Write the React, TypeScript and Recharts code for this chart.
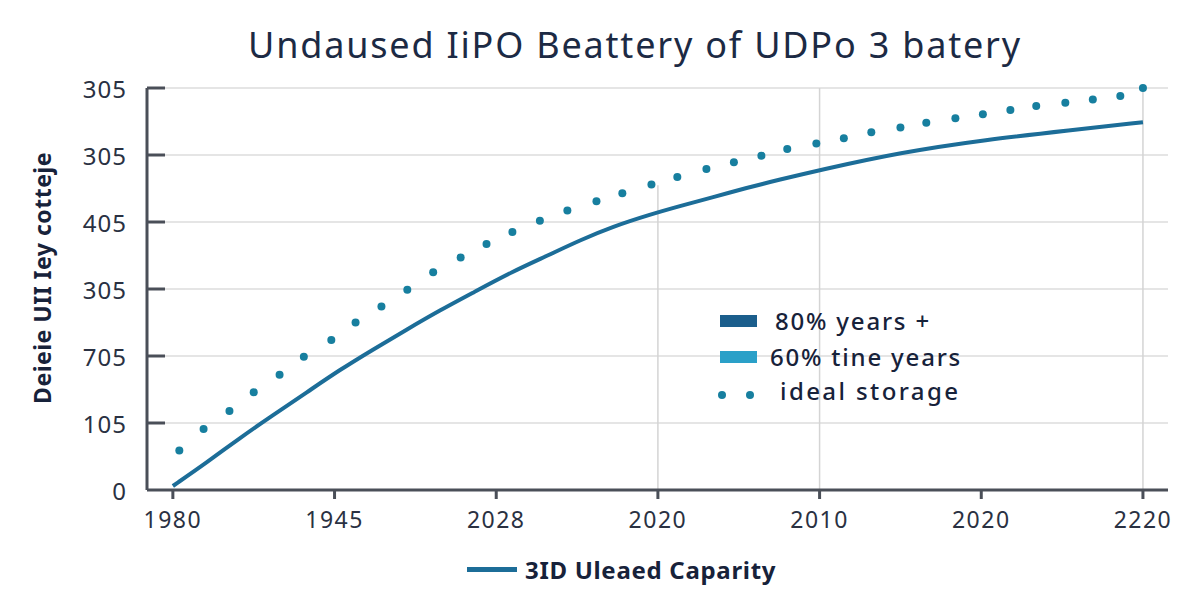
import React from 'react'
import {
  LineChart,
  Line,
  XAxis,
  YAxis,
  CartesianGrid,
  ReferenceLine,
  Label
} from 'recharts'

const xTickLabels = ['1980', '1945', '2028', '2020', '2010', '2020', '2220']
const yTickLabels = ['0', '105', '705', '305', '405', '305', '305']

// "3ID Uleaed Caparity" solid line
const capacityX = [0, 0.21, 0.41, 0.62, 0.83, 1.03, 1.24, 1.45, 1.65, 1.86, 2.1, 2.31, 2.52, 2.72, 2.95, 3.14, 3.34, 3.55, 3.75, 3.99, 4.5, 5.03, 5.55, 6]
const capacityY = [0.06, 0.41, 0.77, 1.12, 1.46, 1.79, 2.1, 2.4, 2.68, 2.95, 3.26, 3.49, 3.73, 3.93, 4.11, 4.24, 4.37, 4.51, 4.63, 4.77, 5.04, 5.23, 5.37, 5.49]

// "ideal storage" dots
const idealX = [0.04, 0.19, 0.35, 0.5, 0.66, 0.81, 0.98, 1.13, 1.29, 1.45, 1.61, 1.78, 1.94, 2.1, 2.27, 2.44, 2.62, 2.78, 2.96, 3.12, 3.3, 3.47, 3.64, 3.8, 3.98, 4.15, 4.32, 4.5, 4.66, 4.84, 5.01, 5.18, 5.34, 5.52, 5.69, 5.86, 6]
const idealY = [0.59, 0.91, 1.18, 1.46, 1.72, 1.99, 2.24, 2.5, 2.74, 2.99, 3.25, 3.47, 3.67, 3.85, 4.02, 4.17, 4.31, 4.43, 4.56, 4.67, 4.79, 4.89, 4.99, 5.09, 5.17, 5.25, 5.34, 5.41, 5.48, 5.55, 5.61, 5.67, 5.73, 5.78, 5.83, 5.88, 6]

const capacityData = capacityX.map((x, i) => ({ x, y: capacityY[i] }))
const idealData = idealX.map((x, i) => ({ x, y: idealY[i] }))

const FONT = '"Noto Sans", "Open Sans", sans-serif'
const TEXT = '#17223a'
const AXIS = '#4a4f58'
const LINE_COLOR = '#1c6d98'
const DOT_COLOR = '#177f9f'

function YTick({ x, y, payload }: any) {
  return (
    <g>
      {payload.value !== 0 && (
        <line x1={x} x2={x + 18} y1={y} y2={y} stroke={AXIS} strokeWidth={3} />
      )}
      <text
        x={x - 20}
        y={y}
        textAnchor="end"
        dominantBaseline="central"
        fill="#2a3142"
        fontSize={24}
        fontFamily={FONT}
        letterSpacing={1}
      >
        {yTickLabels[payload.value]}
      </text>
    </g>
  )
}

function XTick({ x, y, payload }: any) {
  return (
    <text
      x={x}
      y={y + 29}
      textAnchor="middle"
      fill="#2a3142"
      fontSize={23}
      fontFamily={FONT}
      letterSpacing={1.5}
    >
      {xTickLabels[payload.value]}
    </text>
  )
}

function BottomLegend() {
  return (
    <div style={{ position: 'absolute', left: 467, top: 553, display: 'flex', alignItems: 'center', fontFamily: FONT, whiteSpace: 'nowrap' }}>
      <div style={{ width: 50, height: 5, background: LINE_COLOR, marginRight: 8 }} />
      <span style={{ fontSize: 24, fontWeight: 700, color: TEXT, letterSpacing: 0.7 }}>3ID Uleaed Caparity</span>
    </div>
  )
}

function InsideLegend() {
  const row = { position: 'absolute' as const, fontSize: 24, fontWeight: 500, color: TEXT, whiteSpace: 'nowrap' as const, lineHeight: '30px', letterSpacing: 1.8 }
  return (
    <div style={{ position: 'absolute', left: 0, top: 0, fontFamily: FONT }}>
      <div style={{ position: 'absolute', left: 720, top: 315, width: 37, height: 12, background: '#1b5e8c' }} />
      <div style={{ ...row, left: 775, top: 306 }}>80% years +</div>
      <div style={{ position: 'absolute', left: 720, top: 351, width: 37, height: 12, background: '#2aa0c8' }} />
      <div style={{ ...row, left: 770, top: 342 }}>60% tine years</div>
      <div style={{ position: 'absolute', left: 718, top: 391, width: 8, height: 8, borderRadius: 4, background: DOT_COLOR }} />
      <div style={{ position: 'absolute', left: 746, top: 391, width: 8, height: 8, borderRadius: 4, background: DOT_COLOR }} />
      <div style={{ ...row, left: 780, top: 376, letterSpacing: 2.4 }}>ideal storage</div>
    </div>
  )
}

export default function App() {
  return (
    <div style={{ position: 'absolute', left: 0, top: 0, width: 1200, height: 600, background: '#ffffff', fontFamily: FONT }}>
      <div
        style={{
          position: 'absolute',
          left: 635,
          top: 20,
          transform: 'translateX(-50%)',
          whiteSpace: 'nowrap',
          fontSize: 36,
          color: '#1c2a44',
          letterSpacing: 1.8
        }}
      >
        Undaused IiPO Beattery of UDPo 3 batery
      </div>
      <LineChart
        width={1200}
        height={600}
        margin={{ top: 88, right: 32, bottom: 70, left: 0 }}
      >
        <CartesianGrid vertical={false} stroke="#dcdcdc" strokeWidth={1.5} />
        <XAxis
          type="number"
          dataKey="x"
          domain={[-0.16, 6.155]}
          ticks={[0, 1, 2, 3, 4, 5, 6]}
          allowDataOverflow
          height={40}
          axisLine={{ stroke: AXIS, strokeWidth: 3 }}
          tickLine={{ stroke: AXIS, strokeWidth: 3 }}
          tickSize={9}
          tickMargin={0}
          tick={<XTick />}
        />
        <YAxis
          type="number"
          dataKey="y"
          domain={[0, 6]}
          ticks={[0, 1, 2, 3, 4, 5, 6]}
          width={147}
          axisLine={{ stroke: AXIS, strokeWidth: 3 }}
          tickLine={false}
          tickSize={0}
          tickMargin={0}
          tick={<YTick />}
        >
          <Label
            value="Deieie UII Iey cotteje"
            angle={-90}
            position="insideLeft"
            offset={0}
            dx={43}
            dy={-11}
            style={{ textAnchor: 'middle', fontSize: 23, fontWeight: 700, fill: TEXT, fontFamily: FONT, letterSpacing: 0.5 }}
          />
        </YAxis>
        <ReferenceLine segment={[{ x: 3, y: 4.55 }, { x: 3, y: 0 }]} stroke="#d4d4d4" strokeWidth={1.5} />
        <ReferenceLine x={4} stroke="#d4d4d4" strokeWidth={1.5} />
        <ReferenceLine x={6} stroke="#d4d4d4" strokeWidth={1.5} />
        <Line
          data={capacityData}
          dataKey="y"
          name="3ID Uleaed Caparity"
          type="basis"
          stroke={LINE_COLOR}
          strokeWidth={4}
          dot={false}
          activeDot={false}
          isAnimationActive={false}
        />
        <Line
          data={idealData}
          dataKey="y"
          name="ideal storage"
          stroke="none"
          dot={{ r: 4, fill: DOT_COLOR, stroke: 'none' }}
          activeDot={false}
          legendType="none"
          isAnimationActive={false}
        />
      </LineChart>
      <BottomLegend />
      <InsideLegend />
    </div>
  )
}
